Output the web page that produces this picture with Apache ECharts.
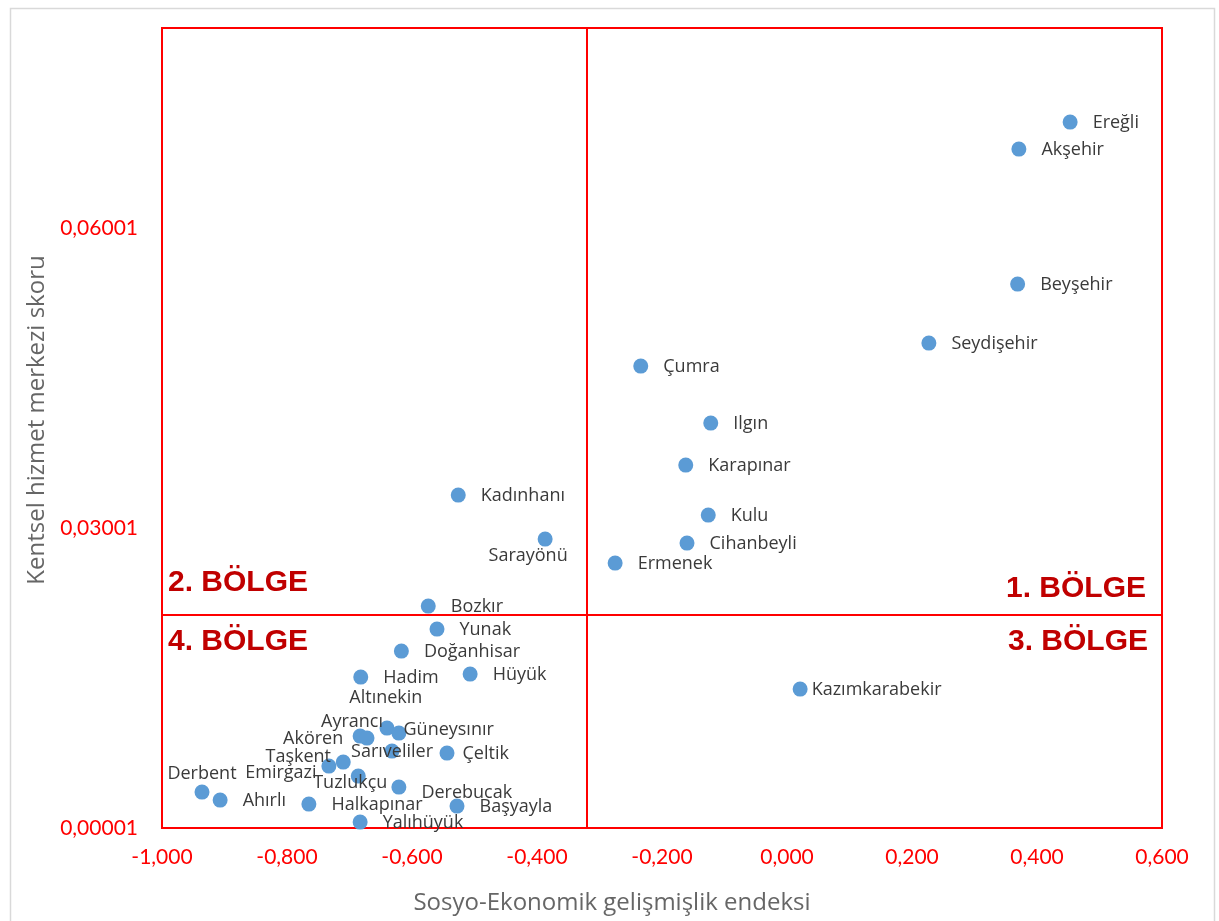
<!DOCTYPE html>
<html>
<head>
<meta charset="utf-8">
<script src="https://cdn.jsdelivr.net/npm/echarts@6/dist/echarts.min.js"></script>
<style>
html,body{margin:0;padding:0;background:#fff;}
#chart{width:1219px;height:921px;}
</style>
</head>
<body>
<div id="chart"></div>
<script>
// ---- data ----
const districts = ['Ereğli','Akşehir','Beyşehir','Seydişehir','Çumra','Ilgın','Karapınar','Kadınhanı','Kulu','Sarayönü','Cihanbeyli','Ermenek','Bozkır','Yunak','Doğanhisar','Hüyük','Hadim','Kazımkarabekir','Güneysınır','Altınekin','Akören','Ayrancı','Sarıveliler','Çeltik','Taşkent','Emirgazi','Tuzlukçu','Derebucak','Derbent','Ahırlı','Halkapınar','Başyayla','Yalıhüyük'];
const socioEconomicIndex = [0.453,0.371,0.369,0.227,-0.234,-0.122,-0.162,-0.526,-0.126,-0.387,-0.160,-0.275,-0.574,-0.560,-0.617,-0.507,-0.682,0.021,-0.640,-0.621,-0.683,-0.672,-0.632,-0.544,-0.710,-0.733,-0.686,-0.621,-0.936,-0.907,-0.765,-0.528,-0.683];
const urbanServiceScore = [0.0706,0.0679,0.0544,0.0485,0.0462,0.0405,0.0363,0.0333,0.0313,0.0289,0.0285,0.0265,0.0222,0.0199,0.0177,0.0154,0.0151,0.0139,0.0100,0.0095,0.0092,0.0090,0.0077,0.0075,0.0066,0.0062,0.0052,0.0041,0.0036,0.0028,0.0024,0.0022,0.0006];
const xTicks = [-1.0,-0.8,-0.6,-0.4,-0.2,0.0,0.2,0.4,0.6];
const yTicks = [0.00001,0.03001,0.06001];
const xRange = [-1.0, 0.6];
const yRange = [0.00001, 0.08001];
const quadrantSplitX = -0.32;
const quadrantSplitY = 0.02131;
const quadrantNames = ['1. BÖLGE','2. BÖLGE','3. BÖLGE','4. BÖLGE'];

// ---- label placement (styling only) ----
const labelStyleOverrides = {
  'Sarayönü':   {position:'inside', offset:[-17,17]},
  'Derbent':    {position:'inside', offset:[0,-18]},
  'Emirgazi':   {position:'inside', offset:[-48,7]},
  'Taşkent':    {position:'inside', offset:[-45,-5]},
  'Tuzlukçu':   {position:'inside', offset:[-8,7]},
  'Sarıveliler':{position:'inside', offset:[0,1]},
  'Akören':     {position:'inside', offset:[-47,3]},
  'Ayrancı':    {position:'inside', offset:[-15,-16]},
  'Altınekin':  {position:'inside', offset:[-13,-35]},
  'Derebucak':  {position:'right', distance:15, offset:[0,6]},
  'Kazımkarabekir': {position:'right', distance:4, offset:[0,1]},
  'Güneysınır': {position:'right', distance:9, offset:[0,2]},
  'Çeltik':     {position:'right', distance:8, offset:[0,1]}
};

const seriesData = districts.map((n,i)=>{
  const d = {name:n, value:[socioEconomicIndex[i], urbanServiceScore[i]]};
  if (labelStyleOverrides[n]) d.label = Object.assign({}, labelStyleOverrides[n]);
  return d;
});

const chart = echarts.init(document.getElementById('chart'));
const redLbl = {color:'#FF0000', fontFamily:'Lato', fontSize:21};
const qFont = 'bold 30px "Liberation Sans", Arial';
const option = {
  animation:false,
  backgroundColor:'#fff',
  grid:{left:162, right:57, top:28, bottom:93, show:true, borderColor:'#FF0000', borderWidth:2, backgroundColor:'transparent'},
  xAxis:{
    type:'value', min:xRange[0], max:xRange[1], interval:0.2,
    axisLine:{show:false}, axisTick:{show:false}, splitLine:{show:false},
    axisLabel:Object.assign({customValues:xTicks, margin:19, formatter:v=>v.toFixed(3).replace('.',',').replace('-0,000','0,000')}, redLbl),
    name:'Sosyo-Ekonomik gelişmişlik endeksi', nameLocation:'middle', nameGap:63,
    nameTextStyle:{color:'#666666', fontFamily:'Open Sans', fontSize:24, padding:[0,100,0,0]}
  },
  yAxis:{
    type:'value', min:yRange[0], max:yRange[1],
    axisLine:{show:false}, axisTick:{show:false}, splitLine:{show:false},
    axisLabel:Object.assign({customValues:yTicks, margin:24, formatter:v=>v.toFixed(5).replace('.',',')}, redLbl),
    name:'Kentsel hizmet merkezi skoru', nameLocation:'middle', nameGap:112,
    nameTextStyle:{color:'#666666', fontFamily:'Open Sans', fontSize:24, padding:[0,0,0,16]}
  },
  series:[{
    type:'scatter',
    symbolSize:15,
    itemStyle:{color:'#5B9BD5', opacity:1},
    data:seriesData,
    label:{show:true, position:'right', distance:15, offset:[0,1], formatter:p=>p.name, color:'#3a3a3a', fontFamily:'Open Sans', fontSize:18},
    markLine:{
      silent:true, symbol:['none','none'], label:{show:false}, precision:6,
      lineStyle:{color:'#FF0000', width:2, type:'solid'},
      data:[{xAxis:quadrantSplitX},{yAxis:quadrantSplitY}]
    }
  }],
  graphic:[
    {type:'rect', left:8, top:6, shape:{width:1204, height:930}, style:{fill:'none', stroke:'#D9D9D9', lineWidth:1.5}, z:-10, silent:true},
    {type:'text', right:1219-1146, top:574, style:{text:quadrantNames[0], fill:'#C00000', font:qFont}},
    {type:'text', left:168, top:568, style:{text:quadrantNames[1], fill:'#C00000', font:qFont}},
    {type:'text', right:1219-1148, top:627, style:{text:quadrantNames[2], fill:'#C00000', font:qFont}},
    {type:'text', left:168, top:627, style:{text:quadrantNames[3], fill:'#C00000', font:qFont}}
  ]
};
chart.setOption(option);
</script>
</body>
</html>
